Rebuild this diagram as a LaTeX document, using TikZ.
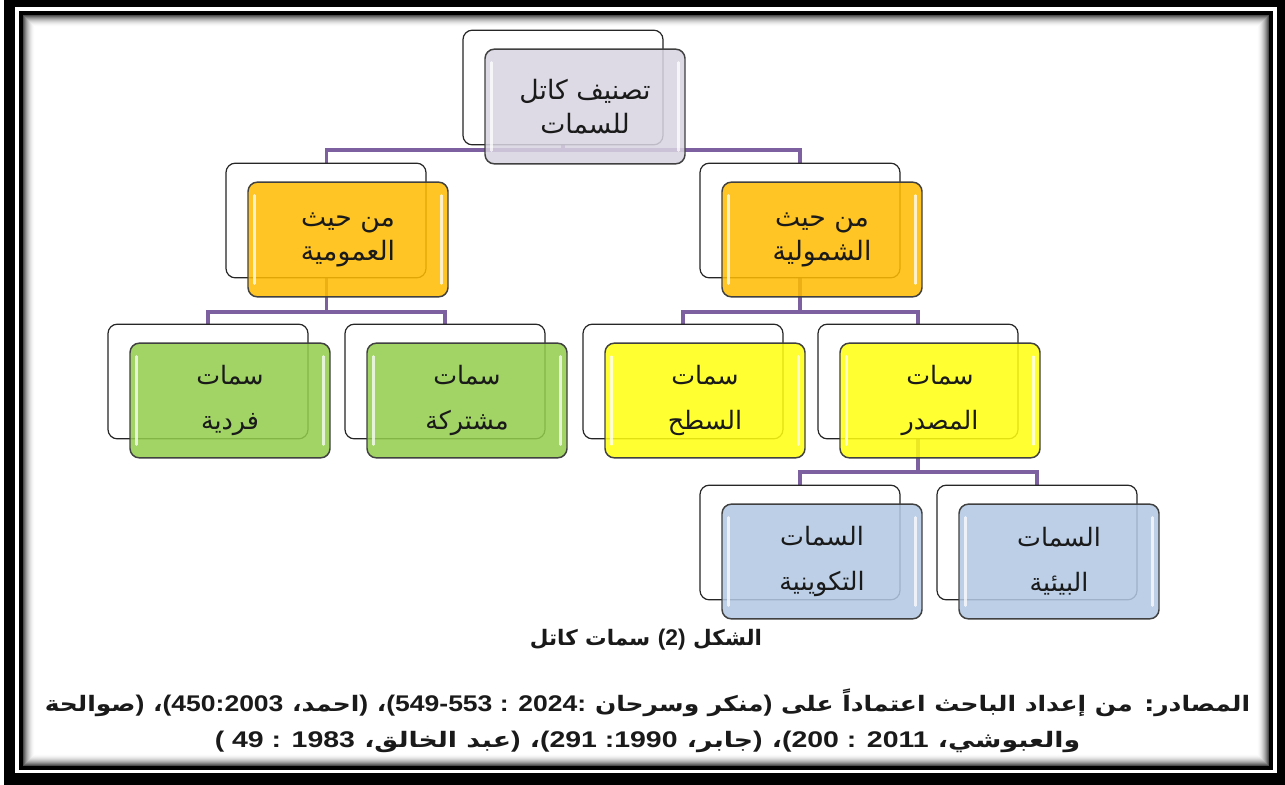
\documentclass[tikz,border=0pt]{standalone}
\usepackage{fontspec}
\newfontfamily\ar[Script=Arabic]{DejaVu Sans}
\newfontfamily\lat{Liberation Sans}
\TeXXeTstate=1
\usetikzlibrary{calc}
\definecolor{lav}{HTML}{D8D3E1}
\definecolor{amber}{HTML}{FFBC00}
\definecolor{grn}{HTML}{92CC4C}
\definecolor{yel}{HTML}{FFFF10}
\definecolor{blu}{HTML}{B2C8E3}
\definecolor{purp}{HTML}{7D60A0}
\definecolor{txt}{HTML}{1A1A1A}
\newcommand\AR[1]{\beginR#1\endR}
\tikzset{
  backbox/.style={draw=black!85, line width=0.9pt, fill=white, rounded corners=7pt,
    minimum width=150pt, minimum height=86pt, inner sep=0pt},
  frontbox/.style={draw=black!75, line width=1.1pt, rounded corners=7pt,
    minimum width=150pt, minimum height=86pt, inner sep=0pt, fill opacity=0.86,
    text opacity=1, align=center, text=txt},
  tight/.style={font=\ar\fontsize{20}{25.5}\selectfont},
  loose/.style={font=\ar\fontsize{19}{33.75}\selectfont},
  conn/.style={draw=purp, line width=2.3pt},
  gloss/.style={draw=white, line width=2pt, draw opacity=0.75, line cap=round},
  srcline/.style={font=\ar\bfseries\fontsize{16}{18}\selectfont, text=txt, inner sep=0pt},
}
% #1 name, #2 bx, #3 by, #4 colour, #5 style, #6 text
\newcommand\pairbox[6]{%
  \node[backbox] (#1B) at (#2+100,#3+57.5) {};
  \node[frontbox,#5,fill=#4] (#1F) at (#2+122,#3+76.5) {#6};
  \draw[gloss] ($(#1F.north west)+(7,14)$) -- ($(#1F.south west)+(7,-14)$);
  \draw[gloss] ($(#1F.north east)+(-7,14)$) -- ($(#1F.south east)+(-7,-14)$);
}
\newcommand\LT[1]{{\lat\bfseries\fontsize{17}{18}\selectfont #1}}
\newcommand\NUM[1]{\beginL\LT{#1}\endL}
\begin{document}
\begin{tikzpicture}[x=0.75pt,y=-0.75pt]
\useasboundingbox (0,0) rectangle (1285,785);
% frame
\fill[white] (0,0) rectangle (1285,785);
\fill[black] (4,0) rectangle (1285,785);
\fill[white] (15,7) rectangle (1277,773);
\fill[black] (19,11) rectangle (1273,770);
\foreach \i in {0,...,11}{
  \pgfmathsetmacro\g{100-70*(1-\i/12)^2}
  \fill[white!\g!black] (23+\i,15+\i) rectangle (1269-\i,766-\i);
}
\fill[white] (35,27) rectangle (1257,754);
% connectors
\coordinate (bus1) at (563,150);
\coordinate (bus2) at (326.5,312);
\coordinate (bus3) at (800,312);
\coordinate (bus4) at (918,472);
\path (563,87.5) coordinate (rootC) (326.5,220.5) coordinate (umC) (800,220.5) coordinate (shC)
      (918,381.5) coordinate (maC);
\path (326.5,163) coordinate (umT) (800,163) coordinate (shT)
      (208,324) coordinate (faT) (445,324) coordinate (muT)
      (683,324) coordinate (saT) (918,324) coordinate (maT)
      (800,485) coordinate (taT) (1037,485) coordinate (biT);
\draw[conn] (rootC) -- (bus1);
\draw[conn] (bus1) -| (umT);
\draw[conn] (bus1) -| (shT);
\draw[conn] (umC) -- (bus2);
\draw[conn] (bus2) -| (faT);
\draw[conn] (bus2) -| (muT);
\draw[conn] (shC) -- (bus3);
\draw[conn] (bus3) -| (saT);
\draw[conn] (bus3) -| (maT);
\draw[conn] (maC) -- (bus4);
\draw[conn] (bus4) -| (taT);
\draw[conn] (bus4) -| (biT);
% boxes
\pairbox{root}{463}{30}{lav}{tight}{\AR{تصنيف كاتل}\\\AR{للسمات}}
\pairbox{um}{226}{163}{amber}{tight}{\AR{من حيث}\\\AR{العمومية}}
\pairbox{sh}{700}{163}{amber}{tight}{\AR{من حيث}\\\AR{الشمولية}}
\pairbox{fa}{108}{324}{grn}{loose}{\AR{سمات}\\\AR{فردية}}
\pairbox{mu}{345}{324}{grn}{loose}{\AR{سمات}\\\AR{مشتركة}}
\pairbox{sa}{583}{324}{yel}{loose}{\AR{سمات}\\\AR{السطح}}
\pairbox{ma}{818}{324}{yel}{loose}{\AR{سمات}\\\AR{المصدر}}
\pairbox{ta}{700}{485}{blu}{loose}{\AR{السمات}\\\AR{التكوينية}}
\pairbox{bi}{937}{485}{blu}{loose}{\AR{السمات}\\\AR{البيئية}}
% caption and sources
\node[srcline] (cap) at (646,640)
  {\resizebox{174pt}{\height}{\AR{الشكل \NUM{(2)} سمات كاتل}}};
\node[srcline] (src1) at (647.5,703)
  {\resizebox{904pt}{\height}{\AR{المصادر: من إعداد الباحث اعتماداً على \LT{)}منكر وسرحان \NUM{(549-553 : 2024:}، \LT{)}احمد، \NUM{(450:2003}، \LT{)}صوالحة}}};
\node[srcline] (src2) at (647.5,742)
  {\resizebox{649pt}{\height}{\AR{والعبوشي، \NUM{(200 : 2011}، \LT{)}جابر، \NUM{(291 :1990}، \LT{)}عبد الخالق، \NUM{( 49 : 1983}}}};
\end{tikzpicture}
\end{document}
